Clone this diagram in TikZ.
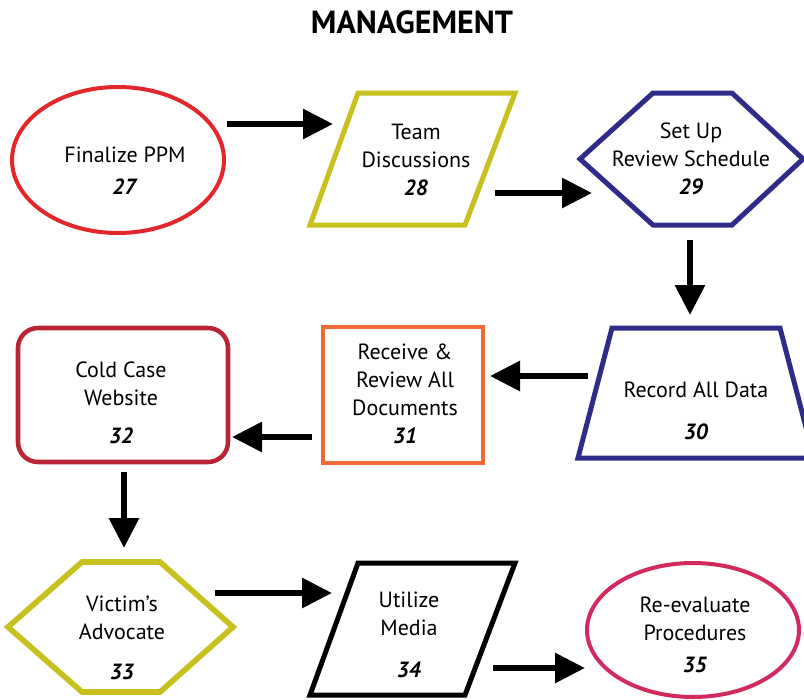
\documentclass[tikz,border=0pt]{standalone}
\usepackage{fontspec}
\setmainfont{PT Sans}
\usetikzlibrary{arrows.meta,shapes.geometric}
\definecolor{cRed}{HTML}{E3262A}
\definecolor{cOlive}{HTML}{C8C01E}
\definecolor{cNavy}{HTML}{2E2C88}
\definecolor{cOrange}{HTML}{EE6A32}
\definecolor{cDarkRed}{HTML}{BA2535}
\definecolor{cCrimson}{HTML}{D22A5C}
\newcommand{\num}[1]{\textbf{\textit{#1}}}
\begin{document}
\begin{tikzpicture}[x=0.75pt,y=-0.75pt,
  lbl/.style={align=center,inner sep=0pt,font=\fontsize{16.5}{21}\selectfont},
  arr/.style={line width=4.5pt,-{Triangle[length=22.5pt,width=21.75pt]}},
  thick4/.style={line width=3pt},
  thick5/.style={line width=3.75pt,line join=miter},
  ttl/.style={inner sep=0pt,font=\fontsize{24}{28}\selectfont\bfseries}]
\useasboundingbox (0,0) rectangle (804,700);

% title
\node[ttl] (title) at (412,22) {MANAGEMENT};

% shapes
\coordinate (n27) at (118,160);
\draw[cRed,thick4] (n27) ellipse [x radius=106, y radius=73];
\draw[cOlive,thick5] (358,93) -- (515,93) -- (465,225) -- (310,225) -- cycle;
\draw[cNavy,thick5] (580,159) -- (653,93) -- (732,93) -- (803,159) -- (732,225) -- (653,225) -- cycle;
\draw[cNavy,thick5] (612,328) -- (780,328) -- (814,458) -- (578,458) -- cycle;
\node[rectangle,draw=cOrange,thick4,minimum width=120pt,minimum height=102pt,inner sep=0pt] (n31) at (403,395) {};
\node[rectangle,rounded corners=15pt,draw=cDarkRed,line width=3.4pt,minimum width=157.5pt,minimum height=100.5pt,inner sep=0pt] (n32) at (123,395) {};
\draw[cOlive,thick5,line width=4.2pt] (8,627) -- (82,562) -- (160,562) -- (233,627) -- (160,692) -- (82,692) -- cycle;
\draw[black,thick5] (358,563) -- (515,563) -- (465,695) -- (310,695) -- cycle;
\coordinate (n35) at (693,630);
\draw[cCrimson,thick4] (n35) ellipse [x radius=106, y radius=67];

% labels
\node[lbl] (t27) at (125,171) {Finalize PPM\\[3pt]\num{27}};
\node[lbl] (t28) at (416,159.5) {Team\\Discussions\\\num{28}};
\node[lbl] (t29) at (691,158.5) {Set Up\\Review Schedule\\\num{29}};
\node[lbl] (t30) at (696,411) {Record All Data\\[10.5pt]\num{30}};
\node[lbl] (t31) at (405,394) {Receive \&\\Review All\\Documents\\\num{31}};
\node[lbl] (t32) at (121,403) {Cold Case\\Website\\[7.5pt]\num{32}};
\node[lbl] (t33) at (122,637.5) {Victim’s\\Advocate\\[9pt]\num{33}};
\node[lbl] (t34) at (409,635) {Utilize\\Media\\[10.5pt]\num{34}};
\node[lbl] (t35) at (695,635) {Re-evaluate\\Procedures\\[3pt]\num{35}};

% arrow end points
\coordinate (a1s) at (227,124); \coordinate (a1e) at (333,124);
\coordinate (a2s) at (495,193); \coordinate (a2e) at (592,193);
\coordinate (a3s) at (690,240); \coordinate (a3e) at (690,315);
\coordinate (a4s) at (588,376); \coordinate (a4e) at (490,376);
\coordinate (a5s) at (312,437); \coordinate (a5e) at (232,437);
\coordinate (a6s) at (124,472); \coordinate (a6e) at (124,548);
\coordinate (a7s) at (215,593); \coordinate (a7e) at (332,593);
\coordinate (a8s) at (493,668); \coordinate (a8e) at (585,668);

\draw[arr] (a1s) -- (a1e);
\draw[arr] (a2s) -- (a2e);
\draw[arr] (a3s) -- (a3e);
\draw[arr] (a4s) -- (a4e);
\draw[arr] (a5s) -- (a5e);
\draw[arr] (a6s) -- (a6e);
\draw[arr] (a7s) -- (a7e);
\draw[arr] (a8s) -- (a8e);
\end{tikzpicture}
\end{document}
